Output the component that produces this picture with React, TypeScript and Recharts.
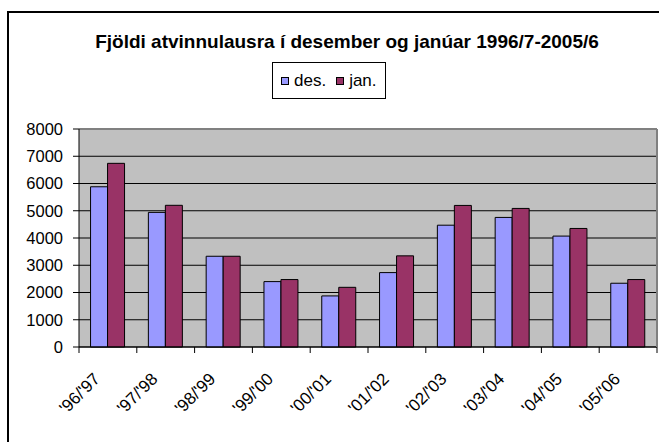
import React from 'react';
import { BarChart, Bar, XAxis, YAxis, CartesianGrid, ReferenceLine } from 'recharts';

const title = 'Fjöldi atvinnulausra í desember og janúar 1996/7-2005/6';
const categories = ["'96/'97", "'97/'98", "'98/'99", "'99/'00", "'00/'01", "'01/'02", "'02/'03", "'03/'04", "'04/'05", "'05/'06"];
const desValues = [5880, 4940, 3330, 2400, 1875, 2730, 4470, 4755, 4070, 2340];
const janValues = [6740, 5200, 3330, 2475, 2190, 3345, 5195, 5085, 4350, 2475];
const seriesNames = ['des.', 'jan.'];
const seriesColors = ['#9999FF', '#993366'];
const yTicks = [0, 1000, 2000, 3000, 4000, 5000, 6000, 7000, 8000];

const data = categories.map((c, i) => ({ name: c, des: desValues[i], jan: janValues[i] }));

const FONT = '"Liberation Sans", Arial, sans-serif';

const XTick = (props: any) => {
  const { x, y, payload, width, visibleTicksCount, index } = props;
  const band = width / (visibleTicksCount || categories.length);
  const left = x - band / 2;
  const right = x + band / 2;
  const ax = x - 7;
  const ay = y + 33;
  return (
    <g>
      <line x1={left} x2={left} y1={y} y2={y + 6} stroke="#000" strokeWidth={1} />
      {index === (visibleTicksCount || categories.length) - 1 && (
        <line x1={right} x2={right} y1={y} y2={y + 6} stroke="#000" strokeWidth={1} />
      )}
      <text
        x={ax}
        y={ay}
        transform={`rotate(-45, ${ax}, ${ay})`}
        textAnchor="end"
        fontSize={17}
        fontFamily={FONT}
        fill="#000"
      >
        {payload.value}
      </text>
    </g>
  );
};

export default function App() {
  return (
    <div style={{ position: 'absolute', left: 0, top: 0, width: 659, height: 442, overflow: 'hidden', background: '#fff', fontFamily: FONT }}>
      <div style={{ position: 'absolute', left: 7, top: 11, width: 800, height: 600, borderLeft: '2px solid #000', borderTop: '2px solid #000' }} />
      <BarChart
        width={659}
        height={442}
        data={data}
        margin={{ top: 129, right: 0, bottom: 0, left: 0 }}
        barCategoryGap="20%"
        barGap={0}
      >
        <CartesianGrid vertical={false} stroke="#000" fill="#C0C0C0" fillOpacity={1} />
        <XAxis
          dataKey="name"
          height={95}
          tickSize={0}
          tickMargin={0}
          axisLine={{ stroke: '#000', strokeWidth: 1 }}
          tickLine={false}
          interval={0}
          tick={<XTick />}
        />
        <YAxis
          width={79}
          domain={[0, 8000]}
          ticks={yTicks}
          tickSize={6}
          tickMargin={10}
          axisLine={{ stroke: '#000' }}
          tickLine={{ stroke: '#000' }}
          tick={{ fontSize: 16.5, fontFamily: FONT, fill: '#000' }}
          interval={0}
        />
        <YAxis
          yAxisId="r"
          orientation="right"
          width={2}
          domain={[0, 8000]}
          tick={false}
          tickLine={false}
          axisLine={{ stroke: '#808080', strokeWidth: 2 }}
        />
        <Bar dataKey="des" name={seriesNames[0]} fill={seriesColors[0]} stroke="#000" strokeWidth={1} isAnimationActive={false} />
        <Bar dataKey="jan" name={seriesNames[1]} fill={seriesColors[1]} stroke="#000" strokeWidth={1} isAnimationActive={false} />
        <ReferenceLine y={8000} stroke="#808080" strokeWidth={2} />
      </BarChart>
      <div style={{ position: 'absolute', left: 0, width: 694, top: 31, textAlign: 'center', fontSize: 19, fontWeight: 'bold', lineHeight: '22px', color: '#000', whiteSpace: 'nowrap' }}>
        {title}
      </div>
      <div style={{ position: 'absolute', left: 272, top: 62, width: 112, height: 35, border: '1px solid #000', background: '#fff', display: 'flex', alignItems: 'center', fontSize: 17, color: '#000' }}>
        {seriesNames.map((n, i) => (
          <div key={n} style={{ display: 'flex', alignItems: 'center', marginLeft: i === 0 ? 8 : 10 }}>
            <span style={{ display: 'inline-block', width: 6, height: 6, background: seriesColors[i], border: '1px solid #000', marginRight: 5 }} />
            <span>{n}</span>
          </div>
        ))}
      </div>
    </div>
  );
}
